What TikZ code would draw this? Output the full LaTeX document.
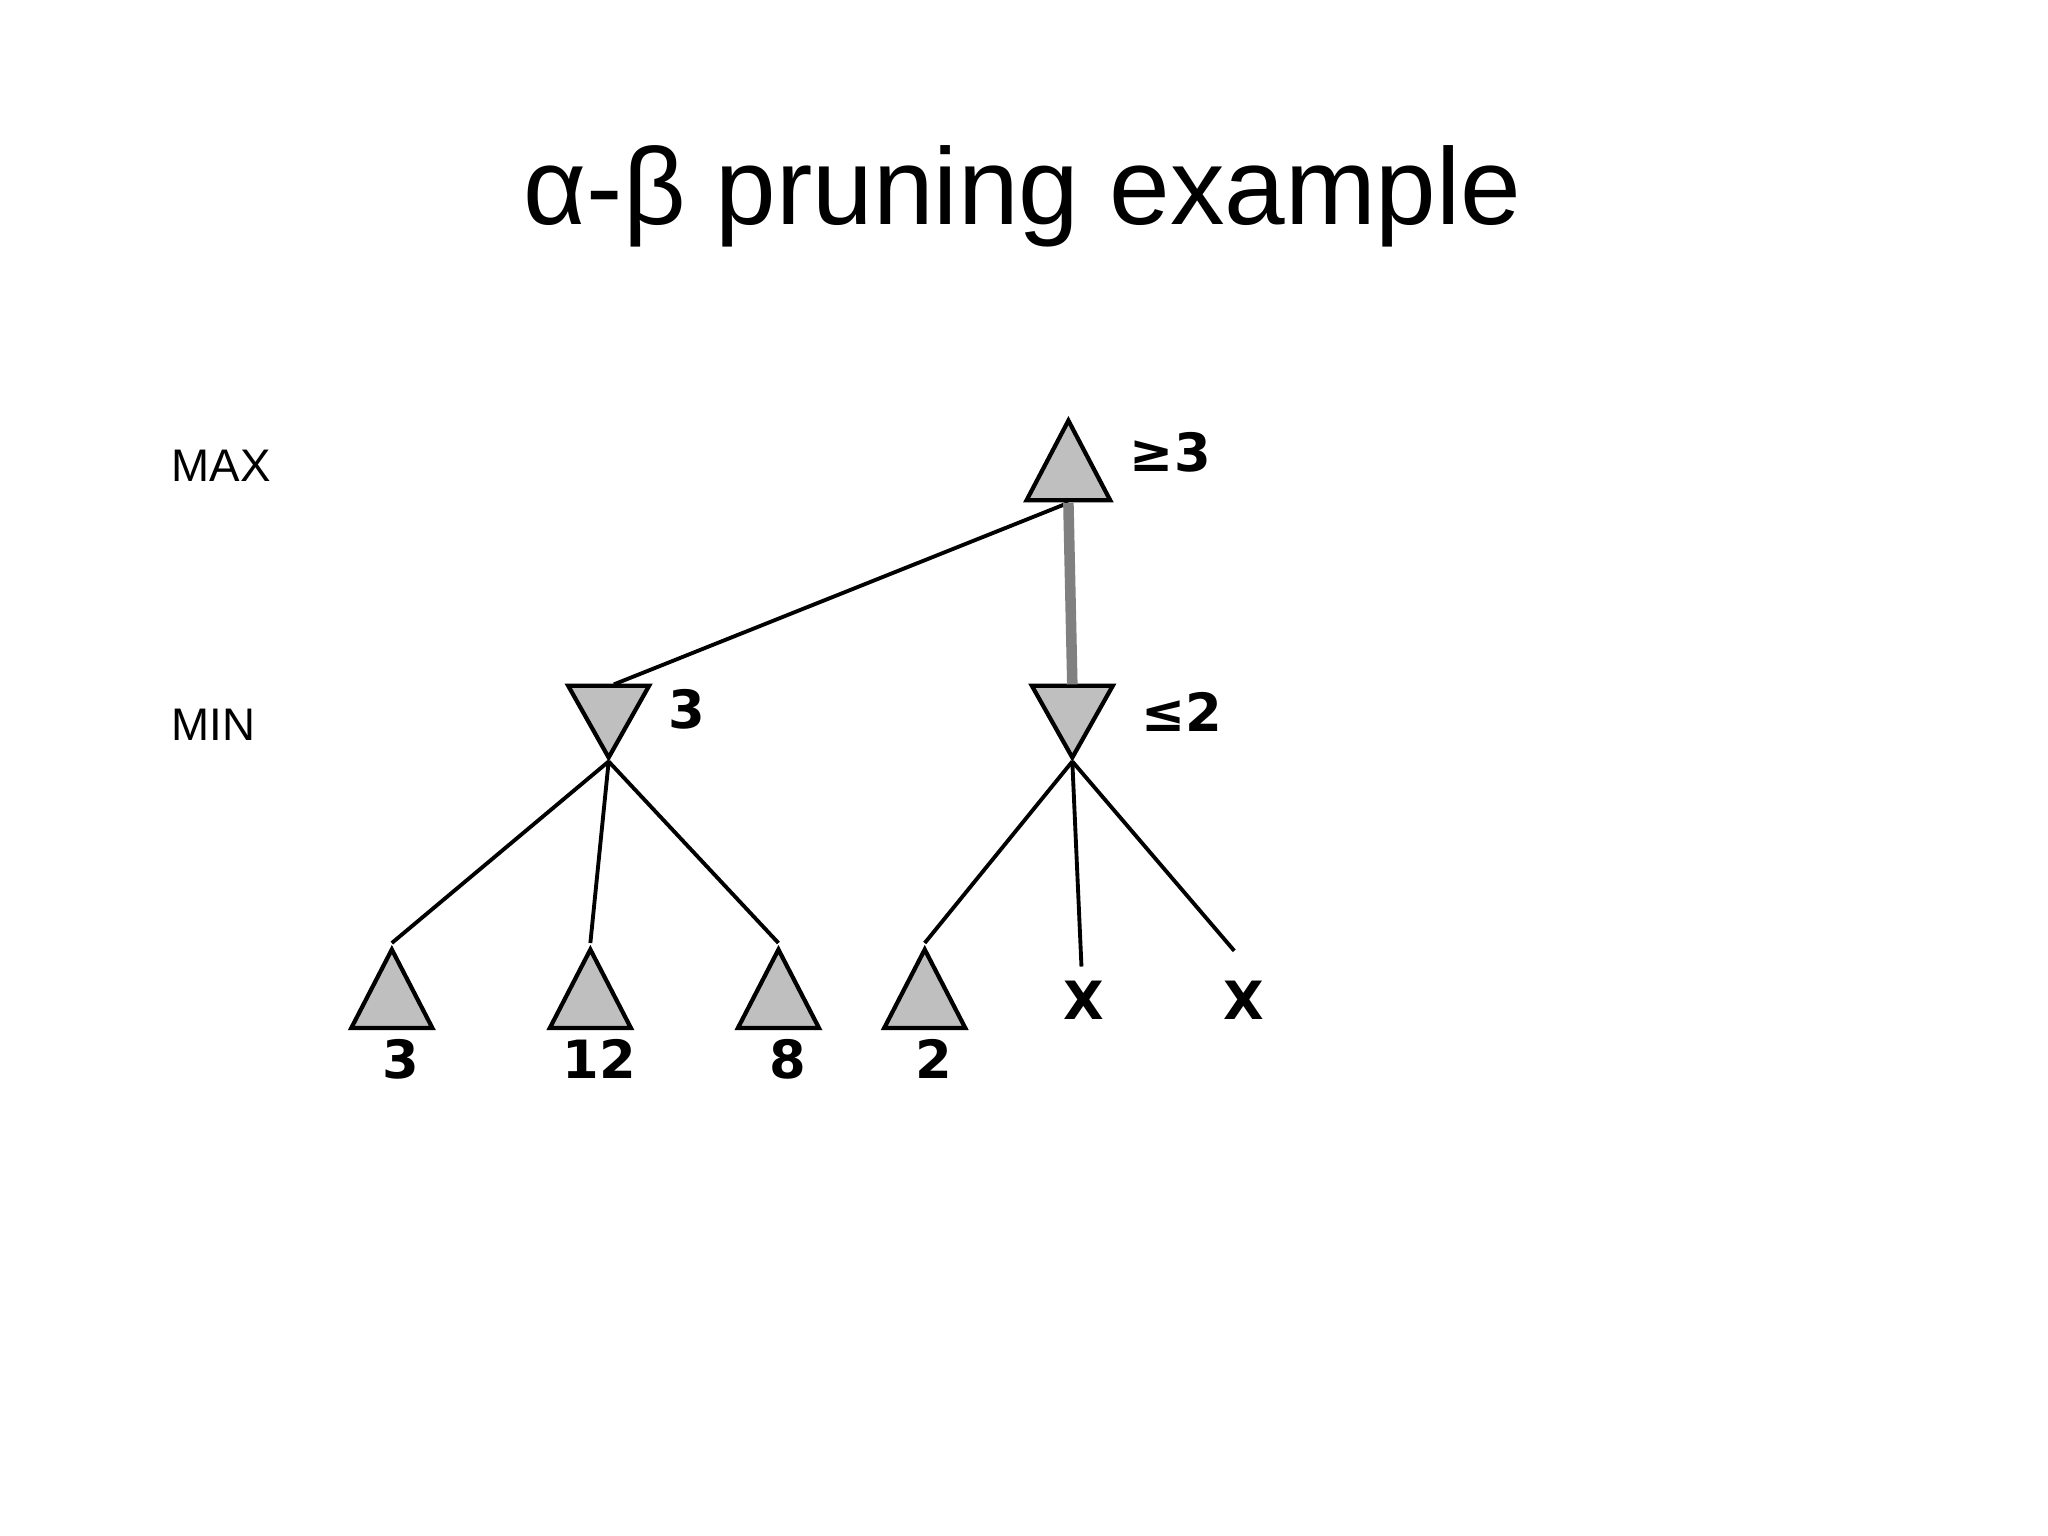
\documentclass[tikz,border=0pt]{standalone}
\usepackage{fontspec}
\setmainfont{Liberation Sans}
\newfontfamily\dv{DejaVu Sans}
\begin{document}
\begin{tikzpicture}[x=0.013061cm,y=-0.013061cm,
  tri/.style={fill=black!25,draw=black,line width=1.2pt},
  edge/.style={line width=1.1pt},
  val/.style={font=\dv\bfseries\fontsize{15}{18}\selectfont,inner sep=0pt},
  lvl/.style={font=\fontsize{13}{15}\selectfont,inner sep=0pt,anchor=west}]
\useasboundingbox (0,0) rectangle (1568,1176);
\node[font=\fontsize{31}{36}\selectfont] (title) at (783,150) {α-β pruning example};
\node[lvl] (max) at (131,357) {MAX};
\node[lvl] (min) at (131,555) {MIN};
% root
\draw[tri] (818,322) -- (850,383) -- (786,383) -- cycle;
\coordinate (r) at (818,385);
\node[val] (rv) at (896,346) {≥3};
% min nodes
\draw[tri] (435,525) -- (497,525) -- (466,580) -- cycle;
\coordinate (m1t) at (470,524); \coordinate (m1) at (466,583);
\node[val] (m1v) at (526,543) {3};
\draw[tri] (790,525) -- (852,525) -- (821,580) -- cycle;
\coordinate (m2t) at (821,524); \coordinate (m2) at (821,583);
\node[val] (m2v) at (905,545) {≤2};
% leaves
\foreach \n/\x/\v in {a/300/3,b/452/12,c/596/8,d/708/2}{
  \draw[tri] (\x,727) -- (\x+31,787) -- (\x-31,787) -- cycle;
  \coordinate (\n) at (\x,722);
  \node[val] (\n v) at (\x+7,811) {\v};
}
\coordinate (e) at (828,740);
\coordinate (f) at (945,728);
\node[val] (ev) at (830,766) {X};
\node[val] (fv) at (952,766) {X};
% edges
\draw[edge] (r) -- (m1t);
\draw[line width=3pt,black!50] (r) -- (m2t);
\draw[edge] (m1) -- (a); \draw[edge] (m1) -- (b); \draw[edge] (m1) -- (c);
\draw[edge] (m2) -- (d); \draw[edge] (m2) -- (e); \draw[edge] (m2) -- (f);
\end{tikzpicture}
\end{document}
